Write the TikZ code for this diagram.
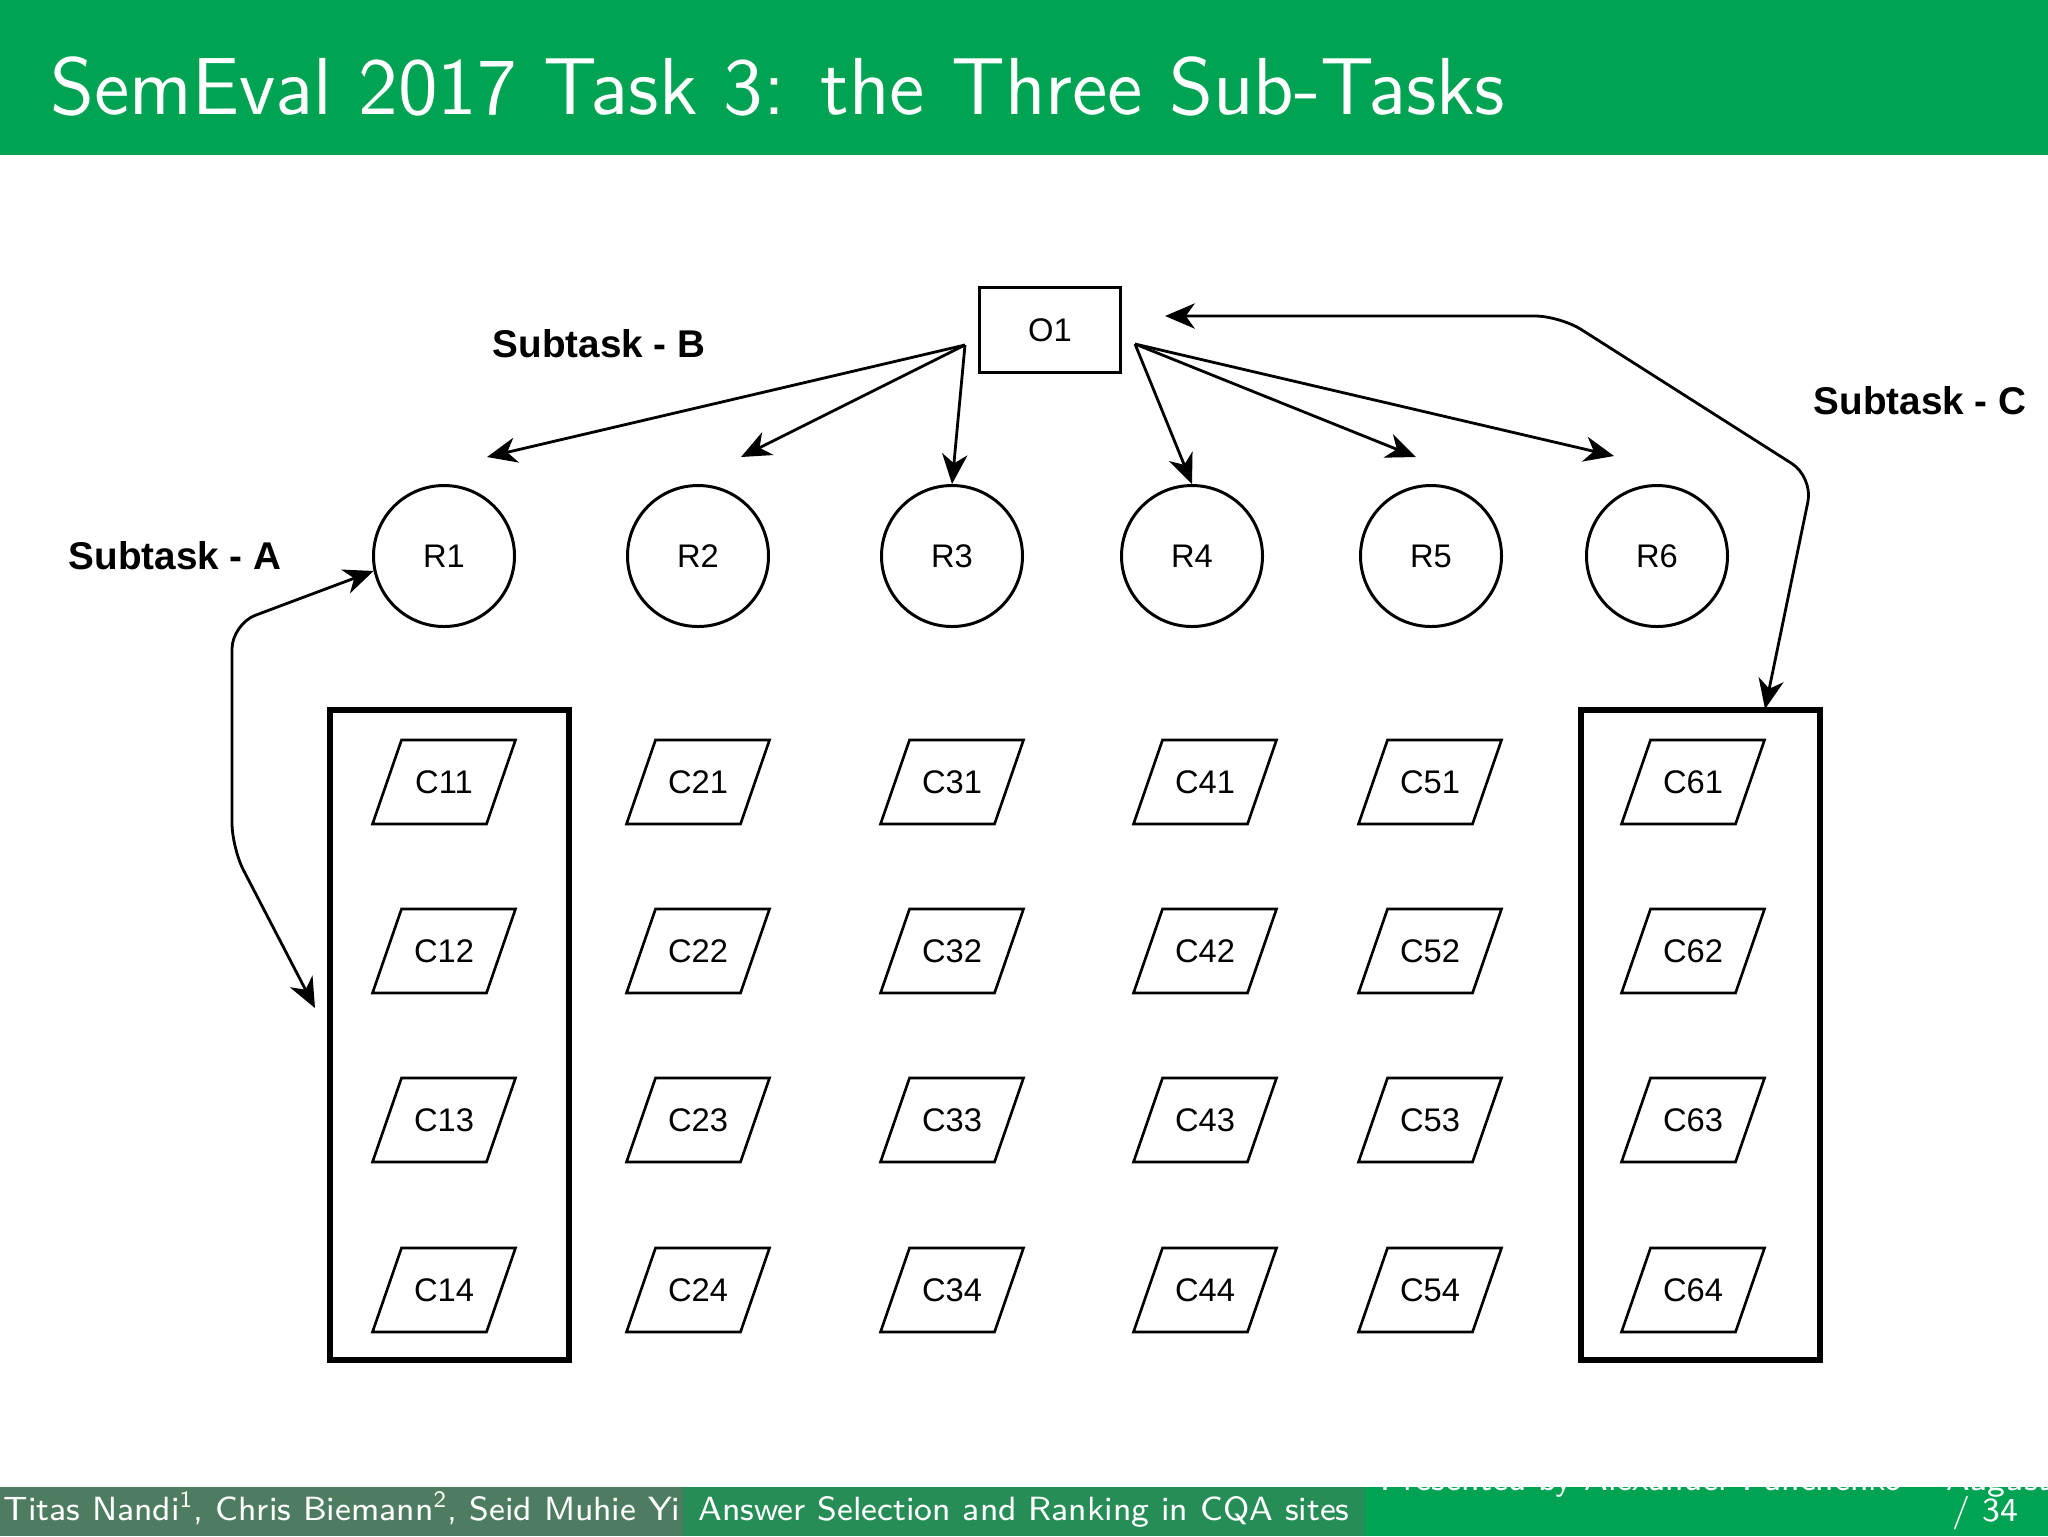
\documentclass[tikz,border=0pt]{standalone}
\usepackage{fontspec}
\newfontfamily\arialfont{Liberation Sans}
\newfontfamily\titlefont{lmsans12-regular.otf}
\newfontfamily\footfont{lmsans8-regular.otf}
\usetikzlibrary{arrows.meta,calc}
\definecolor{titlegreen}{RGB}{0,163,82}
\definecolor{footA}{RGB}{78,124,96}
\definecolor{footB}{RGB}{38,141,86}
\definecolor{footC}{RGB}{0,163,82}
\tikzset{
  tip/.tip={Stealth[length=8.5pt,width=7.2pt,inset=2.6pt]},
  conn/.style={line width=0.8pt,-tip},
  dconn/.style={line width=0.8pt,tip-tip,rounded corners=2.5mm},
  rnode/.style={circle,draw,line width=0.85pt,minimum size=14.1mm,inner sep=0pt,
    font=\arialfont\fontsize{9.3}{11}\selectfont},
  onode/.style={rectangle,draw,line width=0.75pt,minimum width=14.1mm,minimum height=8.5mm,
    inner sep=0pt,font=\arialfont\fontsize{9.3}{11}\selectfont},
  ctext/.style={inner sep=0pt,font=\arialfont\fontsize{9.3}{11}\selectfont},
  cshape/.style={draw,line width=0.75pt,line join=miter},
  group/.style={rectangle,draw,line width=1.6pt,minimum width=23.9mm,minimum height=65mm,inner sep=0pt},
  lbl/.style={inner sep=0pt,font=\arialfont\bfseries\fontsize{11}{13}\selectfont},
  foot/.style={inner sep=0pt,text=white,font=\footfont\fontsize{9.55}{11}\selectfont},
}
\begin{document}
\begin{tikzpicture}[x=0.1mm,y=-0.1mm]
\useasboundingbox (0,0) rectangle (2048,1536);
\fill[white] (0,0) rectangle (2048,1536);
% title bar
\fill[titlegreen] (0,0) rectangle (2048,155);
\node[anchor=base west,inner sep=0pt,text=white,font=\titlefont\fontsize{23}{27}\selectfont] (title) at (50,114) {SemEval 2017 Task 3: the Three Sub-Tasks};

% O1 and R nodes
\node[onode] (O1) at (1050,330) {O1};
\foreach \i/\x in {1/444,2/698,3/952,4/1192,5/1431,6/1657}
  \node[rnode] (R\i) at (\x,556) {R\i};

% C nodes (parallelograms)
\foreach \i/\x in {1/444,2/698,3/952,4/1205,5/1430,6/1693}
  \foreach \j/\y in {1/782,2/951,3/1120,4/1290}{
    \node[ctext] (C\i\j) at (\x,\y) {C\i\j};
    \draw[cshape] ([shift={(-71.5,42)}]C\i\j.center) -- ([shift={(42.5,42)}]C\i\j.center)
      -- ([shift={(71.5,-42)}]C\i\j.center) -- ([shift={(-42.5,-42)}]C\i\j.center) -- cycle;
  }

% groups
\node[group] (gA) at (449.5,1035) {};
\node[group] (gC) at (1700.5,1035) {};

% labels
\node[lbl,anchor=base west] (lA) at (68,569) {Subtask - A};
\node[lbl,anchor=base west] (lB) at (492,357) {Subtask - B};
\node[lbl,anchor=base west] (lC) at (1813,414) {Subtask - C};

% subtask B fan
\coordinate (oL) at (965,345);
\coordinate (oR) at (1135,344);
\coordinate (tB1) at (487,457);
\coordinate (tB2) at (741,457);
\coordinate (tB5) at (1416,457);
\coordinate (tB6) at (1614,456);
\draw[conn] (oL) -- (tB1);
\draw[conn] (oL) -- (tB2);
\draw[conn] (oL) -- (R3.north);
\draw[conn] (oR) -- (R4.north);
\draw[conn] (oR) -- (tB5);
\draw[conn] (oR) -- (tB6);

% subtask A
\coordinate (aEnd) at (315,1008);
\draw[dconn] (R1.192) -- (232,624) -- (232,848) -- (aEnd);

% subtask C
\coordinate (cTip) at (1165,316);
\coordinate (cEnd) at (1765,709);
\draw[dconn] (cEnd) -- (1813,477) -- (1560,316) -- (cTip);

% footer
\fill[footA] (0,1487) rectangle (683,1536);
\fill[footB] (683,1487) rectangle (1365,1536);
\fill[footC] (1365,1487) rectangle (2048,1536);
\begin{scope}
  \clip (0,1487) rectangle (683,1536);
  \node[foot,anchor=base west] (fa) at (3,1520) {Titas Nandi\textsuperscript{1}, Chris Biemann\textsuperscript{2}, Seid Muhie Yi};
\end{scope}
\node[foot,anchor=base] (fb) at (1024,1520) {Answer Selection and Ranking in CQA sites};
\begin{scope}
  \clip (1365,1487) rectangle (2048,1536);
  \node[foot,anchor=base west] (fc) at (1380,1490) {Presented by Alexander Panchenko};
  \node[foot,anchor=base west] (fd) at (1946,1490) {August};
\end{scope}
\node[foot,anchor=base east] (fe) at (2019,1521) {/ 34};
\end{tikzpicture}
\end{document}
